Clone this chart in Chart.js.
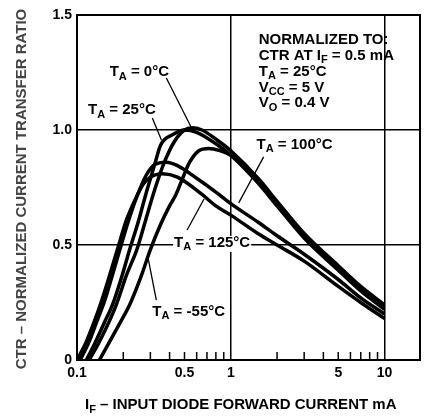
<!DOCTYPE html>
<html>
<head>
<meta charset="utf-8">
<script src="https://cdn.jsdelivr.net/npm/chart.js@4.4.1/dist/chart.umd.min.js"></script>
<style>
  html, body { margin: 0; padding: 0; background: #fff; }
  #wrap { width: 425px; height: 417px; }
</style>
</head>
<body>
<div id="wrap"><canvas id="ctr" width="425" height="417"></canvas></div>
<script>
// --- data (IF in mA, normalized CTR) ---
const IF_M55 = [0.14, 0.16, 0.19, 0.22, 0.26, 0.30, 0.35, 0.40, 0.44, 0.50, 0.54, 0.62, 0.72, 0.85, 1.0, 1.5, 2, 3, 5, 7, 10];
const CTR_M55 = [0, 0.07, 0.16, 0.24, 0.36, 0.48, 0.59, 0.67, 0.72, 0.81, 0.86, 0.91, 0.92, 0.91, 0.89, 0.79, 0.69, 0.55, 0.41, 0.32, 0.24];

const IF_0 = [0.12, 0.135, 0.155, 0.18, 0.21, 0.245, 0.28, 0.32, 0.37, 0.43, 0.50, 0.56, 0.65, 0.8, 1.0, 1.5, 2, 3, 5, 7, 10];
const CTR_0 = [0, 0.06, 0.14, 0.24, 0.37, 0.48, 0.61, 0.74, 0.86, 0.95, 1.00, 1.01, 1.00, 0.96, 0.91, 0.79, 0.68, 0.54, 0.40, 0.31, 0.23];

const IF_25 = [0.115, 0.13, 0.15, 0.17, 0.195, 0.22, 0.25, 0.28, 0.32, 0.35, 0.42, 0.50, 0.60, 0.8, 1.0, 1.5, 2, 3, 5, 7, 10];
const CTR_25 = [0, 0.07, 0.16, 0.24, 0.36, 0.48, 0.60, 0.72, 0.85, 0.935, 0.98, 1.00, 0.99, 0.94, 0.89, 0.77, 0.67, 0.53, 0.39, 0.30, 0.22];

const IF_100 = [0.105, 0.12, 0.135, 0.15, 0.17, 0.19, 0.215, 0.245, 0.28, 0.32, 0.38, 0.45, 0.60, 0.8, 1.0, 1.5, 2, 3, 5, 7, 10];
const CTR_100 = [0, 0.08, 0.17, 0.25, 0.37, 0.48, 0.60, 0.71, 0.80, 0.85, 0.86, 0.845, 0.79, 0.73, 0.68, 0.60, 0.54, 0.46, 0.35, 0.27, 0.20];

const IF_125 = [0.10, 0.115, 0.13, 0.145, 0.165, 0.185, 0.21, 0.24, 0.27, 0.30, 0.36, 0.45, 0.65, 0.8, 1.0, 1.5, 2, 3, 5, 7, 10];
const CTR_125 = [0, 0.08, 0.17, 0.26, 0.38, 0.49, 0.61, 0.70, 0.765, 0.795, 0.81, 0.795, 0.72, 0.67, 0.63, 0.55, 0.50, 0.43, 0.32, 0.25, 0.18];

const X_TICKS = [0.1, 0.2, 0.3, 0.4, 0.5, 0.6, 0.7, 0.8, 0.9, 1, 2, 3, 4, 5, 6, 7, 8, 9, 10];
const X_LABELS = { 0.1: '0.1', 0.5: '0.5', 1: '1', 5: '5', 10: '10' };
const X_GRID = [1, 10];
const Y_TICKS = [0, 0.5, 1.0, 1.5];
const Y_LABELS = ['0', '0.5', '1.0', '1.5'];

const FONT = "'Liberation Sans', Arial, sans-serif";

function pts(xs, ys) {
    return xs.map((v, i) => ({ x: v, y: ys[i] }));
}

function curve(label, xs, ys) {
    return {
        label: label,
        data: pts(xs, ys),
        borderColor: '#000',
        borderWidth: 3.5,
        pointRadius: 0,
        cubicInterpolationMode: 'monotone',
        fill: false
    };
}

// text with subscripts: parts = [[text, isSub], ...]; returns width
function drawParts(ctx, parts, x, y, size) {
    let cx = x;
    parts.forEach(([t, sub]) => {
        const s = sub ? Math.round(size * 0.72) : size;
        ctx.font = `bold ${s}px ${FONT}`;
        ctx.fillText(t, cx, sub ? y + size * 0.3 : y);
        cx += ctx.measureText(t).width;
    });
    return cx - x;
}

function partsWidth(ctx, parts, size) {
    let w = 0;
    parts.forEach(([t, sub]) => {
        ctx.font = `bold ${sub ? Math.round(size * 0.72) : size}px ${FONT}`;
        w += ctx.measureText(t).width;
    });
    return w;
}

// label anchors and pointer lines, in data coordinates
const TEMP_LABELS = [
    { parts: [['T', false], ['A', true], [' = 0°C', false]], at: [0.163, 1.252], from: [0.381, 1.226], to: [0.552, 1.013] },
    { parts: [['T', false], ['A', true], [' = 25°C', false]], at: [0.118, 1.087], from: [0.309, 1.052], to: [0.354, 0.957] },
    { parts: [['T', false], ['A', true], [' = 100°C', false]], at: [1.47, 0.935], from: [1.636, 0.883], to: [1.126, 0.683] },
    { parts: [['T', false], ['A', true], [' = 125°C', false]], at: [0.428, 0.509], from: [0.52, 0.565], to: [0.67, 0.70], clear: true },
    { parts: [['T', false], ['A', true], [' = -55°C', false]], at: [0.309, 0.209], from: [0.328, 0.26], to: [0.29, 0.443] }
];

const NOTE_LINES = [
    [['NORMALIZED TO:', false]],
    [['CTR AT I', false], ['F', true], [' = 0.5 mA', false]],
    [['T', false], ['A', true], [' = 25°C', false]],
    [['V', false], ['CC', true], [' = 5 V', false]],
    [['V', false], ['O', true], [' = 0.4 V', false]]
];

const decor = {
    id: 'decor',
    afterDraw(chart) {
        const { ctx, chartArea: a, scales: { x, y } } = chart;
        ctx.save();
        ctx.strokeStyle = '#000';
        ctx.fillStyle = '#000';

        // frame
        ctx.lineWidth = 2;
        ctx.strokeRect(a.left, a.top, a.right - a.left, a.bottom - a.top);

        // short minor ticks inside the bottom edge
        ctx.lineWidth = 1.5;
        X_TICKS.forEach(v => {
            if (v === 0.1 || v === 1 || v === 10) return;
            const px = x.getPixelForValue(v);
            ctx.beginPath();
            ctx.moveTo(px, a.bottom);
            ctx.lineTo(px, a.bottom - 8);
            ctx.stroke();
        });

        // temperature labels and pointers
        ctx.textBaseline = 'middle';
        ctx.textAlign = 'left';
        TEMP_LABELS.forEach(l => {
            const lx = x.getPixelForValue(l.at[0]);
            const ly = y.getPixelForValue(l.at[1]);
            if (l.clear) {
                ctx.fillStyle = '#fff';
                ctx.fillRect(lx - 1, ly - 7, partsWidth(ctx, l.parts, 15) + 2, 16);
                ctx.fillStyle = '#000';
            }
            ctx.lineWidth = 1.3;
            ctx.beginPath();
            ctx.moveTo(x.getPixelForValue(l.from[0]), y.getPixelForValue(l.from[1]));
            ctx.lineTo(x.getPixelForValue(l.to[0]), y.getPixelForValue(l.to[1]));
            ctx.stroke();
            drawParts(ctx, l.parts, lx, ly, 15);
        });

        // normalization note
        const nx = x.getPixelForValue(1.52);
        const ny = y.getPixelForValue(1.391);
        NOTE_LINES.forEach((parts, i) => drawParts(ctx, parts, nx, ny + i * 15.8, 15));

        // x axis title
        drawParts(ctx, [['I', false], ['F', true], [' – INPUT DIODE FORWARD CURRENT mA', false]], 85, 405, 15);

        // y axis title
        ctx.save();
        ctx.translate(22, 189);
        ctx.rotate(-Math.PI / 2);
        ctx.textAlign = 'center';
        ctx.fillStyle = '#444';
        ctx.font = `bold 15px ${FONT}`;
        ctx.fillText('CTR – NORMALIZED CURRENT TRANSFER RATIO', 0, 0);
        ctx.restore();

        ctx.restore();
    }
};

new Chart(document.getElementById('ctr'), {
    type: 'line',
    data: {
        datasets: [
            curve('TA = -55°C', IF_M55, CTR_M55),
            curve('TA = 0°C', IF_0, CTR_0),
            curve('TA = 25°C', IF_25, CTR_25),
            curve('TA = 100°C', IF_100, CTR_100),
            curve('TA = 125°C', IF_125, CTR_125)
        ]
    },
    options: {
        responsive: false,
        animation: false,
        layout: { padding: { top: 15, right: 5, left: 0, bottom: 0 } },
        plugins: { legend: { display: false }, tooltip: { enabled: false } },
        scales: {
            x: {
                type: 'logarithmic',
                min: 0.1,
                max: 17,
                afterBuildTicks: s => { s.ticks = X_TICKS.map(v => ({ value: v })); },
                afterFit: s => { s.height = 57; },
                border: { display: false },
                grid: {
                    drawTicks: false,
                    lineWidth: 1.5,
                    color: c => X_GRID.includes(c.tick && c.tick.value) ? '#000' : 'rgba(0,0,0,0)'
                },
                ticks: {
                    autoSkip: false,
                    maxRotation: 0,
                    padding: 5,
                    color: '#000',
                    font: { family: FONT, size: 14, weight: 'bold' },
                    callback: v => X_LABELS[v] || ''
                }
            },
            y: {
                min: 0,
                max: 1.5,
                afterBuildTicks: s => { s.ticks = Y_TICKS.map(v => ({ value: v })); },
                afterFit: s => { s.width = 77; },
                border: { display: false },
                grid: { drawTicks: false, lineWidth: 1.5, color: '#000' },
                ticks: {
                    padding: 5,
                    color: '#000',
                    font: { family: FONT, size: 14, weight: 'bold' },
                    callback: (v, i) => Y_LABELS[i]
                }
            }
        }
    },
    plugins: [decor]
});
</script>
</body>
</html>
